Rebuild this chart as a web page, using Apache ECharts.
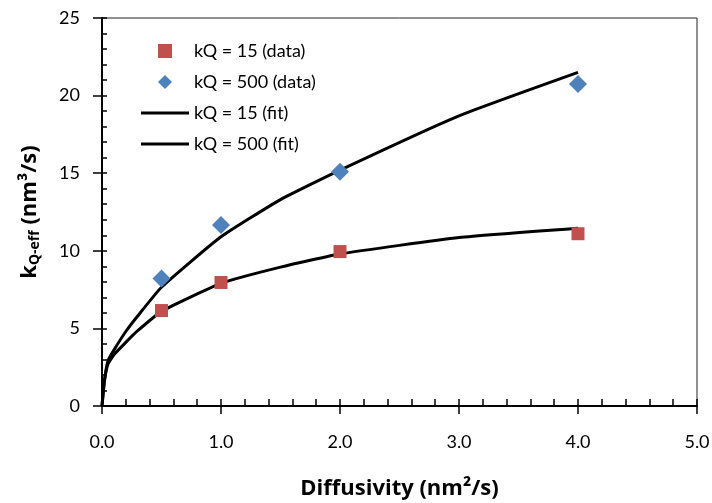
<!DOCTYPE html>
<html>
<head>
<meta charset="utf-8">
<script src="https://cdn.jsdelivr.net/npm/echarts@6/dist/echarts.min.js"></script>
<style>
  html, body { margin: 0; padding: 0; background: #fff; }
  #chart { width: 712px; height: 503px; }
</style>
</head>
<body>
<div id="chart"></div>
<script>
// measured points
var dataX = [0.5, 1.0, 2.0, 4.0];
var kq15Data = [6.15, 7.96, 9.95, 11.1];
var kq500Data = [8.22, 11.66, 15.1, 20.75];

// fitted curves
var fitX = [0, 0.02, 0.05, 0.1, 0.2, 0.3, 0.5, 1.0, 1.5, 2.0, 3.0, 4.0];
var kq15Fit = [0, 1.6, 2.7, 3.3, 4.1, 4.85, 6.1, 7.9, 8.95, 9.8, 10.85, 11.45];
var kq500Fit = [0, 1.6, 2.9, 3.6, 4.8, 5.8, 7.65, 10.9, 13.3, 15.2, 18.7, 21.5];

var xTicks = ['0.0', '1.0', '2.0', '3.0', '4.0', '5.0'];

var FONT = 'Lato, "Open Sans", sans-serif';
var BOLD = '"Open Sans", Lato, sans-serif';

function pairs(xs, ys) {
  return xs.map(function (x, i) { return [x, ys[i]]; });
}

var chart = echarts.init(document.getElementById('chart'), null, { renderer: 'canvas' });

var labelStyle = { color: '#000', fontFamily: FONT, fontSize: 18 };

// legend icons: path icons keep their aspect inside the 48px box
var squareIcon = 'path://M0,0L10,0L10,10L0,10Z';
var diamondIcon = 'path://M5,0L10,5L5,10L0,5Z';
var lineIcon = 'path://M0,0L48,0L48,3L0,3Z';

chart.setOption({
  animation: false,
  backgroundColor: '#fff',
  textStyle: { fontFamily: FONT },
  grid: {
    left: 102, right: 15, top: 18, bottom: 97,
    show: true, borderColor: '#222', borderWidth: 1,
    outerBoundsMode: 'none'
  },
  legend: {
    orient: 'vertical',
    left: 136, top: 37,
    itemWidth: 48, itemHeight: 14, itemGap: 13,
    symbolKeepAspect: true,
    textStyle: { color: '#000', fontFamily: FONT, fontSize: 18 },
    data: [
      { name: 'kQ = 15 (data)', icon: squareIcon, itemStyle: { color: '#C0504D', opacity: 1 } },
      { name: 'kQ = 500 (data)', icon: diamondIcon, itemStyle: { color: '#4F81BD', opacity: 1 } },
      { name: 'kQ = 15 (fit)', icon: lineIcon, itemStyle: { color: '#000' } },
      { name: 'kQ = 500 (fit)', icon: lineIcon, itemStyle: { color: '#000' } }
    ]
  },
  xAxis: [
    {
      type: 'value', min: 0, max: 5, interval: 1, position: 'bottom',
      axisLine: { onZero: false, lineStyle: { color: '#000', width: 2 } },
      axisTick: { inside: false, length: 8, lineStyle: { color: '#000', width: 1.5 } },
      axisLabel: Object.assign({ margin: 27, formatter: function (v) { return xTicks[Math.round(v)]; } }, labelStyle),
      splitLine: { show: false },
      name: 'Diffusivity (nm²/s)', nameLocation: 'middle', nameGap: 72,
      nameTextStyle: { color: '#000', fontFamily: BOLD, fontSize: 22, fontWeight: 'bold' }
    },
    {
      type: 'value', min: 0, max: 5, interval: 0.2, position: 'bottom',
      axisLine: { show: false },
      axisTick: { inside: true, length: 7, lineStyle: { color: '#000', width: 1.5 } },
      axisLabel: { show: false },
      splitLine: { show: false }
    }
  ],
  yAxis: [
    {
      type: 'value', min: 0, max: 25, interval: 5, position: 'left',
      axisLine: { show: true, onZero: false, lineStyle: { color: '#000', width: 2 } },
      axisTick: { show: true, inside: false, length: 9, lineStyle: { color: '#000', width: 1.5 } },
      axisLabel: Object.assign({ margin: 22 }, labelStyle),
      splitLine: { show: false },
      name: '{k|k}{sub|Q-eff}{k| (nm³/s)}', nameLocation: 'middle', nameGap: 60, nameRotate: 90,
      nameTextStyle: {
        rich: {
          k: { color: '#000', fontFamily: BOLD, fontSize: 22, fontWeight: 'bold' },
          sub: { color: '#000', fontFamily: BOLD, fontSize: 14, fontWeight: 'bold', padding: [10, 0, 0, 0] }
        }
      }
    },
    {
      type: 'value', min: 0, max: 25, interval: 1, position: 'left',
      axisLine: { show: false },
      axisTick: { show: true, inside: true, length: 5, lineStyle: { color: '#000', width: 1.5 } },
      axisLabel: { show: false },
      splitLine: { show: false }
    }
  ],
  series: [
    {
      name: 'kQ = 15 (data)', type: 'scatter', z: 5,
      symbol: 'rect', symbolSize: 13,
      itemStyle: { color: '#C0504D', opacity: 1 },
      data: pairs(dataX, kq15Data)
    },
    {
      name: 'kQ = 500 (data)', type: 'scatter', z: 5,
      symbol: 'diamond', symbolSize: 18,
      itemStyle: { color: '#4F81BD', opacity: 1 },
      data: pairs(dataX, kq500Data)
    },
    {
      name: 'kQ = 15 (fit)', type: 'line', symbol: 'none', smooth: 0.15,
      lineStyle: { color: '#000', width: 3 },
      itemStyle: { color: '#000' },
      data: pairs(fitX, kq15Fit)
    },
    {
      name: 'kQ = 500 (fit)', type: 'line', symbol: 'none', smooth: 0.15,
      lineStyle: { color: '#000', width: 3 },
      itemStyle: { color: '#000' },
      data: pairs(fitX, kq500Fit)
    }
  ]
});
</script>
</body>
</html>
